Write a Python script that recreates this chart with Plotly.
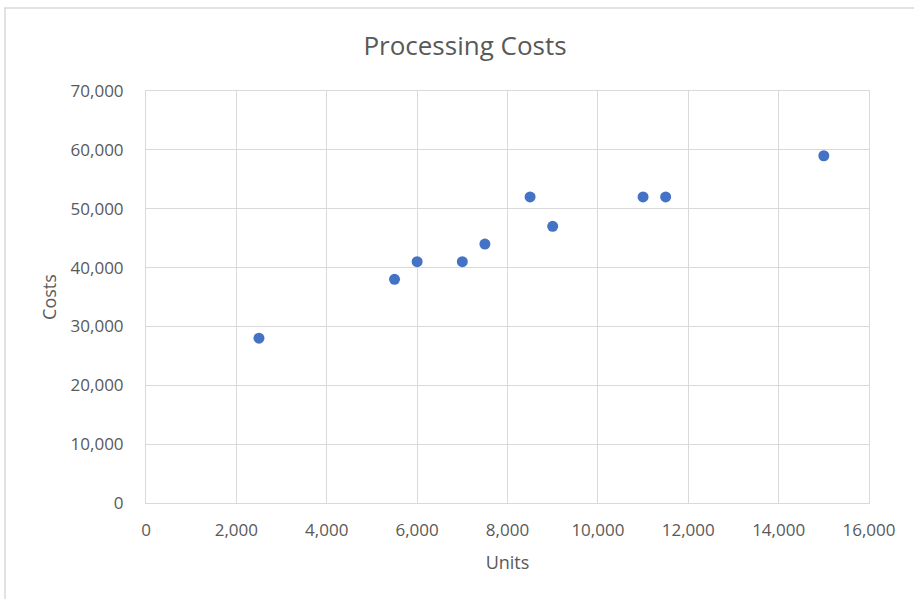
import plotly.graph_objects as go

units = [2500, 5500, 6000, 7000, 7500, 8500, 9000, 11000, 11500, 15000]
costs = [28000, 38000, 41000, 41000, 44000, 52000, 47000, 52000, 52000, 59000]

W, H = 914, 599
L, R, T, B = 146, 869, 91, 503
pw, ph = R - L, B - T

fig = go.Figure(go.Scatter(
    x=units, y=costs, mode="markers",
    marker=dict(color="#4472C4", size=11, line=dict(width=0)),
))

font_fam = "Open Sans, Noto Sans, sans-serif"
axis_common = dict(
    showgrid=True, gridcolor="#d9d9d9", gridwidth=1,
    showline=True, linecolor="#d9d9d9", linewidth=1, mirror=True,
    zeroline=False, ticks="", tickfont=dict(size=17, color="#595959", family=font_fam),
    tickformat=",", separatethousands=True,
)

fig.update_layout(
    width=W, height=H,
    margin=dict(l=L, r=W - R, t=T, b=H - B, pad=0),
    paper_bgcolor="white", plot_bgcolor="white",
    showlegend=False,
    title=dict(text="Processing Costs", x=465 / W, xanchor="center",
               y=1 - 46 / H, yanchor="middle",
               font=dict(size=26, color="#595959", family=font_fam)),
    xaxis=dict(range=[0, 16000], dtick=2000, ticklabelstandoff=12,
               title=dict(text="Units", font=dict(size=18, color="#595959", family=font_fam), standoff=15),
               **axis_common),
    yaxis=dict(range=[0, 70000], dtick=10000, ticklabelstandoff=18,
               title=dict(text="Costs", font=dict(size=18, color="#595959", family=font_fam), standoff=9),
               **axis_common),
)

def px_x(p):
    return (p - L) / pw

def px_y(p):
    return (B - p) / ph

fig.add_shape(type="rect", xref="paper", yref="paper",
              x0=px_x(5), x1=px_x(915), y0=px_y(8), y1=px_y(601),
              line=dict(color="#d9d9d9", width=1.5), fillcolor="rgba(0,0,0,0)", layer="below")

fig.write_html("out.html", config={"displayModeBar": False},
               post_script="document.body.style.margin='0';document.body.style.overflow='hidden';")
